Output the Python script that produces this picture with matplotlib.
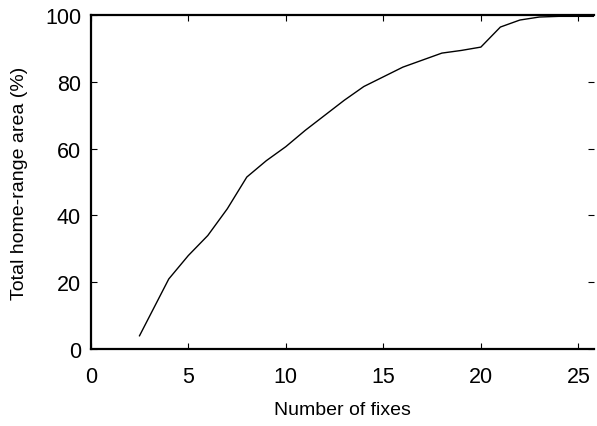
import matplotlib.pyplot as plt

# Curva de área acumulada vs número de localizações
fixes = [2.5, 4, 5, 6, 7, 8, 9, 10, 11, 12, 13, 14, 15, 16, 17, 18, 19, 20, 21, 22, 23, 24, 25, 26]
area = [4, 21, 28, 34, 42, 51.5, 56.4, 60.6, 65.5, 70, 74.5, 78.6, 81.5, 84.4, 86.5, 88.6, 89.4, 90.4, 96.4, 98.5, 99.4, 99.6, 99.6, 99.6]

plt.rcParams['font.family'] = ['Liberation Sans', 'DejaVu Sans']

fig = plt.figure(figsize=(5.97, 4.27), dpi=100)
ax = fig.add_axes([0.152, 0.180, 0.843, 0.7825])

ax.plot(fixes, area, color='black', linewidth=1.0)

ax.set_xlim(0, 25.8)
ax.set_ylim(0, 100)
ax.set_xticks([0, 5, 10, 15, 20, 25])
ax.set_yticks([0, 20, 40, 60, 80, 100])
ax.tick_params(direction='in', length=4, labelsize=15.5, top=True, right=True)
ax.tick_params(axis='x', pad=12)
ax.tick_params(axis='y', pad=7)

for s in ['left', 'bottom', 'top']:
    ax.spines[s].set_linewidth(1.6)
ax.spines['right'].set_visible(False)

ax.set_xlabel('Number of fixes', fontsize=14, labelpad=10)
ax.set_ylabel('Total home-range area (%)', fontsize=14, labelpad=12)

fig.savefig('out.png', dpi=100)
